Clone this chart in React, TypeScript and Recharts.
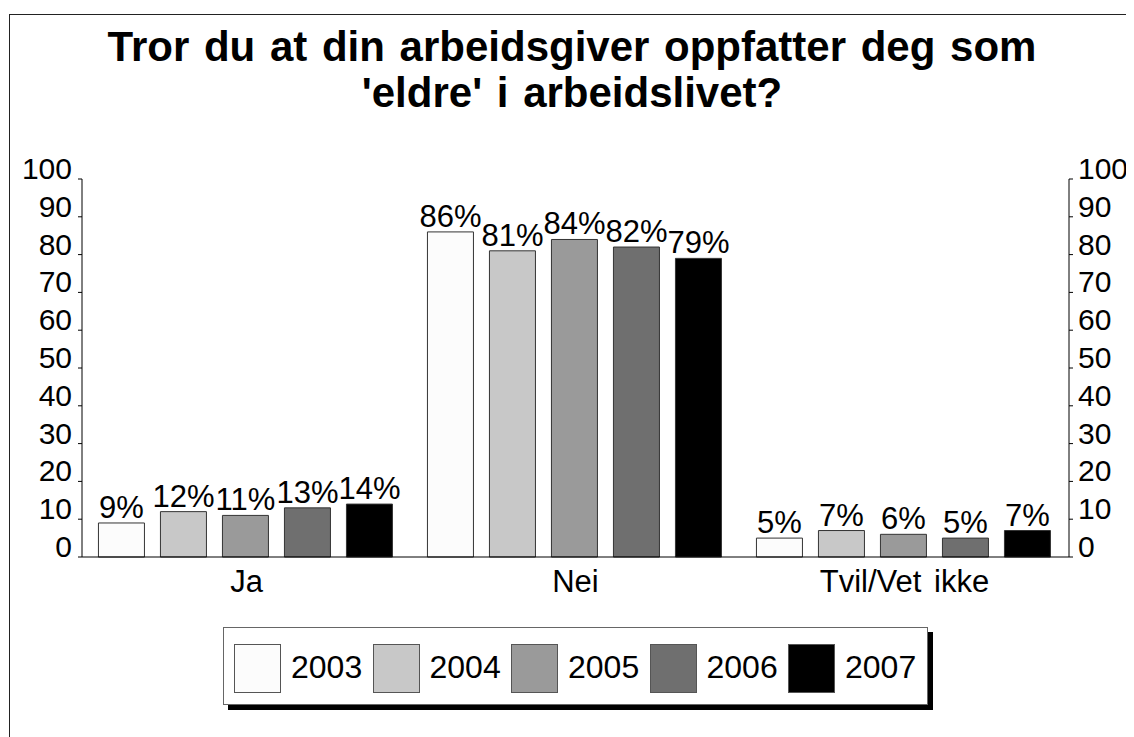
import { Bar, ComposedChart, LabelList, Legend, Line, XAxis, YAxis } from "recharts";

const categories = ["Ja", "Nei", "Tvil/Vet ikke"];
const years = ["2003", "2004", "2005", "2006", "2007"];
const v2003 = [9, 86, 5];
const v2004 = [12, 81, 7];
const v2005 = [11, 84, 6];
const v2006 = [13, 82, 5];
const v2007 = [14, 79, 7];
const yTicks = [0, 10, 20, 30, 40, 50, 60, 70, 80, 90, 100];

const seriesValues = [v2003, v2004, v2005, v2006, v2007];
const fills = ["#fcfcfc", "#c8c8c8", "#9a9a9a", "#6f6f6f", "#000000"];
const font = "'Liberation Sans', Arial, Helvetica, sans-serif";

const data = categories.map((name, i) => {
  const row: Record<string, string | number> = { name };
  years.forEach((y, k) => (row[y] = seriesValues[k][i]));
  return row;
});

const LeftTick = ({ x, y, payload }: any) => (
  <text x={x} y={y} textAnchor="end" fontSize={30} fill="#000" fontFamily={font}>
    {payload.value}
  </text>
);

const RightTick = ({ x, y, payload }: any) => (
  <text x={x} y={y} textAnchor="start" fontSize={30} fill="#000" fontFamily={font}>
    {payload.value}
  </text>
);

const CatTick = ({ x, y, payload }: any) => (
  <text
    x={x}
    y={y + 35}
    textAnchor="middle"
    fontSize={31}
    fill="#000"
    fontFamily={font}
    style={{ wordSpacing: 4 }}
  >
    {payload.value}
  </text>
);

const TopLabel = ({ x, y, width, value }: any) => (
  <text x={x + width / 2} y={y - 5} textAnchor="middle" fontSize={31} fill="#000" fontFamily={font}>
    {value}%
  </text>
);

function LegendBox() {
  return (
    <div
      style={{
        width: 705,
        height: 78,
        boxSizing: "border-box",
        border: "1px solid #666",
        background: "#fff",
        boxShadow: "5px 5px 0 #000",
        display: "flex",
        alignItems: "flex-start",
        paddingLeft: 10,
        paddingTop: 16,
        fontFamily: font,
        fontSize: 32,
      }}
    >
      {years.map((y, k) => (
        <div key={y} style={{ display: "flex", alignItems: "center", width: 138.5 }}>
          <div
            style={{
              width: 47,
              height: 49,
              boxSizing: "border-box",
              border: "1px solid #555",
              background: fills[k],
              marginRight: 10,
            }}
          />
          <span style={{ position: "relative", top: -1 }}>{y}</span>
        </div>
      ))}
    </div>
  );
}

export default function App() {
  return (
    <div style={{ position: "relative", width: 1126, height: 729, fontFamily: font }}>
      <div
        style={{
          position: "absolute",
          left: 1,
          top: 6,
          width: 1125,
          height: 723,
          borderTop: "1.5px solid #222",
          borderLeft: "1.5px solid #222",
          boxSizing: "border-box",
        }}
      />
      <div
        style={{
          position: "absolute",
          left: 1,
          top: 16,
          width: 1126,
          textAlign: "center",
          fontWeight: "bold",
          fontSize: 42,
          lineHeight: "46px",
          wordSpacing: 3,
          color: "#000",
        }}
      >
        Tror du at din arbeidsgiver oppfatter deg som
        <br />
        'eldre' i arbeidslivet?
      </div>
      <ComposedChart
        width={1126}
        height={729}
        data={data}
        margin={{ top: 171, right: 0, bottom: 140, left: 0 }}
        barCategoryGap="5%"
        barGap={16}
        style={{ position: "absolute", left: 0, top: 0 }}
      >
        <XAxis
          dataKey="name"
          height={40}
          tickLine={false}
          tickSize={0}
          tickMargin={0}
          axisLine={{ stroke: "#000", strokeWidth: 1 }}
          tick={<CatTick />}
          interval={0}
        />
        <YAxis
          yAxisId="left"
          width={74}
          domain={[0, 100]}
          ticks={yTicks}
          interval={0}
          tickSize={4}
          tickMargin={6}
          axisLine={{ stroke: "#000" }}
          tickLine={{ stroke: "#000" }}
          tick={<LeftTick />}
        />
        <YAxis
          yAxisId="right"
          orientation="right"
          width={65}
          domain={[0, 100]}
          ticks={yTicks}
          interval={0}
          tickSize={4}
          tickMargin={5}
          axisLine={{ stroke: "#000" }}
          tickLine={{ stroke: "#000" }}
          tick={<RightTick />}
        />
        <Legend
          layout="horizontal"
          verticalAlign="middle"
          align="center"
          content={() => <LegendBox />}
          wrapperStyle={{ position: "absolute", left: 215, top: 619, width: 710, height: 84 }}
        />
        {years.map((y, k) => (
          <Bar
            key={y}
            dataKey={y}
            yAxisId="left"
            fill={fills[k]}
            stroke="#333"
            strokeWidth={1}
            isAnimationActive={false}
          >
            <LabelList dataKey={y} content={<TopLabel />} />
          </Bar>
        ))}
        {/* invisible series so the right-hand axis gets a scale and draws its ticks */}
        <Line
          yAxisId="right"
          dataKey={years[0]}
          stroke="none"
          dot={false}
          activeDot={false}
          legendType="none"
          isAnimationActive={false}
        />
      </ComposedChart>
    </div>
  );
}
